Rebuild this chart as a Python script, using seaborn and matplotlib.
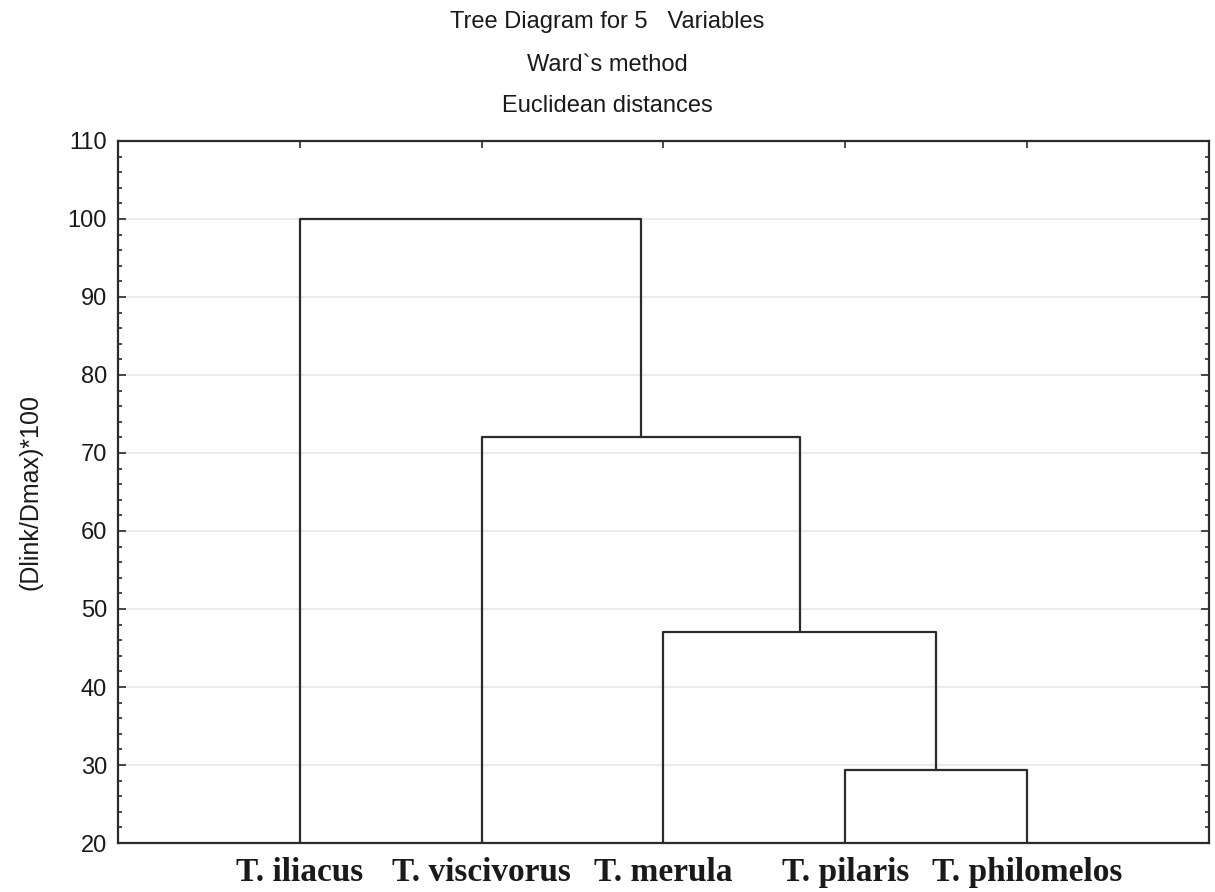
"""Tree diagram (Ward's method) for five Turdus species."""

import matplotlib
matplotlib.use("Agg")
import matplotlib.pyplot as plt
from matplotlib.ticker import MultipleLocator
import pandas as pd
import seaborn as sns

SPECIES = ["T. iliacus", "T. viscivorus", "T. merula", "T. pilaris", "T. philomelos"]
# each merge: (left cluster, right cluster, linkage distance)
MERGES = [
    ("T. pilaris", "T. philomelos", 29.3),
    ("T. merula", "m0", 47.1),
    ("T. viscivorus", "m1", 72.0),
    ("T. iliacus", "m2", 100.0),
]
Y_TICKS = [20, 30, 40, 50, 60, 70, 80, 90, 100, 110]


def build_links():
    pos = {name: i + 1 for i, name in enumerate(SPECIES)}
    top = {name: 20.0 for name in SPECIES}
    rows = []
    for k, (a, b, h) in enumerate(MERGES):
        xs = [pos[a], pos[a], pos[b], pos[b]]
        ys = [top[a], h, h, top[b]]
        for order, (x, y) in enumerate(zip(xs, ys)):
            rows.append({"link": k, "order": order, "x": x, "y": y})
        name = f"m{k}"
        pos[name] = (pos[a] + pos[b]) / 2
        top[name] = h
    return pd.DataFrame(rows)


links = build_links()

sns.set_style("white")
plt.rcParams["font.family"] = ["Liberation Sans", "DejaVu Sans"]

fig = plt.figure(figsize=(12.15, 8.92), dpi=100)
ax = fig.add_axes([0.0971, 0.0549, 0.8979, 0.7871])

ax.yaxis.grid(True, color="#e6e6e6", linewidth=1.2)
ax.set_axisbelow(True)

sns.lineplot(data=links, x="x", y="y", units="link", estimator=None, sort=False,
             color="#2b2b2b", linewidth=1.6, ax=ax, legend=False)

ax.set_xlim(0, 6)
ax.set_ylim(20, 110)
ax.set_yticks(Y_TICKS)
ax.yaxis.set_minor_locator(MultipleLocator(2))
ax.set_xticks(range(1, len(SPECIES) + 1))
ax.set_xticklabels(SPECIES, fontfamily="Liberation Serif", fontweight="bold", fontsize=24)
ax.tick_params(axis="y", which="major", direction="in", length=6, width=1.2,
               labelsize=17, left=True, right=True, colors="#2b2b2b", pad=8)
ax.tick_params(axis="y", which="minor", direction="in", length=3, width=1.2,
               left=True, right=True, colors="#2b2b2b")
ax.tick_params(axis="x", which="major", direction="in", length=5, width=1.2,
               top=True, bottom=True, colors="#2b2b2b", pad=10)
for lbl in ax.get_xticklabels() + ax.get_yticklabels():
    lbl.set_color("#1a1a1a")

for side in ax.spines.values():
    side.set_visible(True)
    side.set_color("#2b2b2b")
    side.set_linewidth(1.6)

ax.set_xlabel("")
ax.set_ylabel("(Dlink/Dmax)*100", fontsize=18, labelpad=18, color="#1a1a1a")

fig.text(0.5, 0.975, "Tree Diagram for 5   Variables", ha="center", va="center",
         fontsize=17, color="#1a1a1a")
fig.text(0.5, 0.927, "Ward`s method", ha="center", va="center", fontsize=17, color="#1a1a1a")
fig.text(0.5, 0.881, "Euclidean distances", ha="center", va="center", fontsize=17,
         color="#1a1a1a")

fig.savefig("out.png", dpi=100)
